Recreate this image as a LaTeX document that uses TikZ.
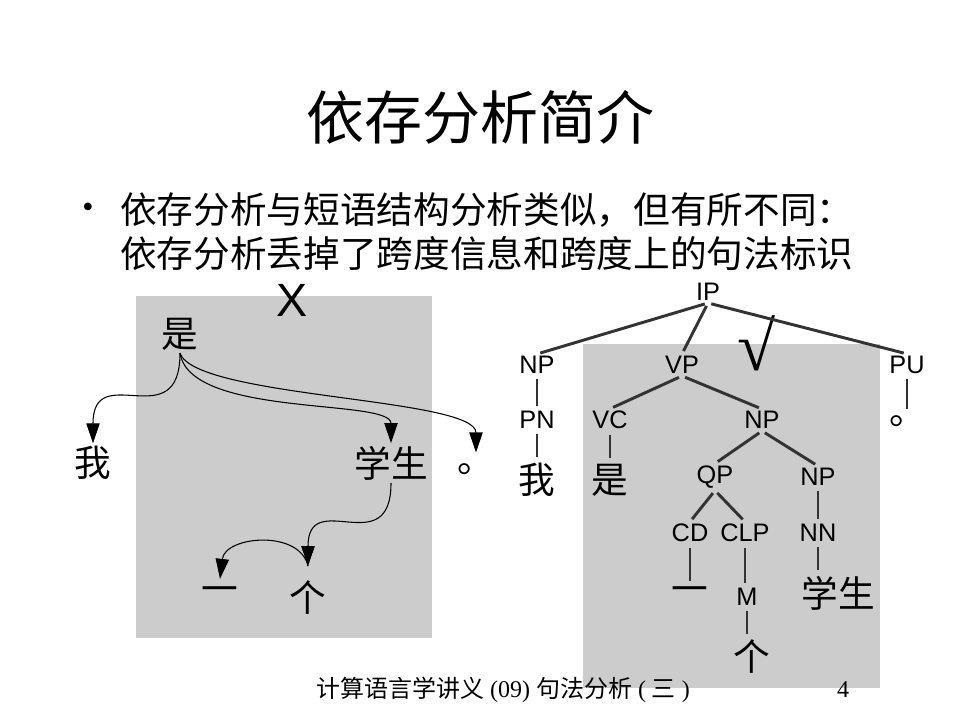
\documentclass[tikz,border=0pt]{standalone}
\usepackage{fontspec}
\setmainfont{Liberation Serif}
\newfontfamily\cjk{Noto Sans CJK SC}
\newfontfamily\arial{Liberation Sans}
\usetikzlibrary{calc,arrows.meta}

\begin{document}
\begin{tikzpicture}[x=0.75pt,y=-0.75pt,word/.style={font=\cjk\fontsize{27.5}{27.5}\selectfont,inner sep=2pt},tag/.style={font=\arial\fontsize{19}{19}\selectfont,inner sep=1.5pt},dep/.style={-{Triangle[length=15pt,width=10pt]},line width=0.8pt},branch/.style={line width=2.2pt,draw=black!80,shorten <=2.5pt,shorten >=2.5pt},panel/.style={fill=black!20}]
  \fill[white] (0,0) rectangle (960,720);
  \fill[panel] (136,296) rectangle (432,638);
  \fill[panel] (583,344) rectangle (880,688);

  \node[font=\cjk\fontsize{43.5}{43.5}\selectfont] (title) at (480,117) {依存分析简介};
  \node[font=\fontsize{24}{24}\selectfont] (bullet) at (88,210) {•};
  \node[anchor=west,inner sep=0pt,font=\cjk\fontsize{27.5}{27.5}\selectfont] (point line1) at (120,210) {依存分析与短语结构分析类似，但有所不同：};
  \node[anchor=west,inner sep=0pt,font=\cjk\fontsize{27.5}{27.5}\selectfont] (point line2) at (120,253) {依存分析丢掉了跨度信息和跨度上的句法标识};

  % dependency graph
  \node[font=\arial\fontsize{35}{35}\selectfont] (wrong mark) at (292,300) {X};
  \node[word] (dep shi) at (180,334) {是};
  \node[word] (dep wo) at (93,463) {我};
  \node[word] (dep xuesheng) at (391,463) {学生};
  \node[word] (dep period) at (476,469) {。};
  \node[word] (dep yi) at (220,595) {一};
  \node[word] (dep ge) at (308,598) {个};

  \draw[dep] (dep shi.south) .. controls +(0,85) and +(0,-85) .. (dep wo.north);
  \draw[dep] (dep shi.south) .. controls +(10,65) and +(0,-45) .. (dep xuesheng.north);
  \draw[dep] (dep shi.south) .. controls +(15,45) and +(0,-55) .. ([yshift=6pt]dep period.north);
  \draw[dep] (dep xuesheng.south) .. controls +(0,80) and +(0,-80) .. ([yshift=9pt]dep ge.north);
  \draw[dep] ([yshift=9pt]dep ge.north) .. controls +(-8,-37) and +(5,-43) .. ([yshift=4pt]dep yi.north);

  % phrase structure tree
  \node[tag] (ip) at (708,292) {IP};
  \node[tag] (np1) at ($ (ip) + (-171,73) $) {NP};
  \node[tag] (vp) at ($ (ip) + (-26,73) $) {VP};
  \node[tag] (pu) at ($ (ip) + (199,73) $) {PU};
  \node[font=\fontsize{52}{52}\selectfont] (right mark) at (757,343) {√};
  \node[tag] (pn) at ($ (np1) + (0,55) $) {PN};
  \node[word] (wo) at ($ (pn) + (0,60) $) {我};
  \node[tag] (vc) at ($ (vp) + (-72,55) $) {VC};
  \node[word] (shi) at ($ (vc) + (0,60) $) {是};
  \node[tag] (np2) at ($ (vp) + (80,55) $) {NP};
  \node[tag] (qp) at ($ (np2) + (-47,57) $) {QP};
  \node[tag] (np3) at ($ (np2) + (56,57) $) {NP};
  \node[tag] (cd) at ($ (qp) + (-25,56) $) {CD};
  \node[tag] (clp) at ($ (qp) + (30,56) $) {CLP};
  \node[tag] (nn) at ($ (np3) + (0,56) $) {NN};
  \node[word] (yi) at ($ (cd) + (0,62) $) {一};
  \node[tag] (m) at ($ (clp) + (2,64) $) {M};
  \node[word] (xuesheng) at ($ (nn) + (20,60) $) {学生};
  \node[word] (ge) at ($ (m) + (5,60) $) {个};
  \node[word] (period) at ($ (pu) + (1,56) $) {。};

  \draw[branch] (ip.south) -- (np1.north);
  \draw[branch] (ip.south) -- (vp.north);
  \draw[branch] (ip.south) -- (pu.north);
  \draw[branch] (np1) -- (np1 |- pn.north);
  \draw[branch] (pn) -- (pn |- wo.north);
  \draw[branch] (vp.south) -- (vc.north);
  \draw[branch] (vp.south) -- (np2.north);
  \draw[branch] (vc) -- (vc |- shi.north);
  \draw[branch] (np2.south) -- (qp.north);
  \draw[branch] (np2.south) -- (np3.north);
  \draw[branch] (qp.south) -- (cd.north);
  \draw[branch] (qp.south) -- (clp.north);
  \draw[branch] (np3) -- (np3 |- nn.north);
  \draw[branch] (cd) -- (cd |- yi.north);
  \draw[branch] (clp) -- (clp |- m.north);
  \draw[branch] (nn) -- (nn |- xuesheng.north);
  \draw[branch] (m) -- (m |- ge.north);
  \draw[branch] (pu) -- (pu |- period.north);

  \node[font=\fontsize{18}{18}\selectfont] (footer) at (503,690) {{\cjk 计算语言学讲义} (09) {\cjk 句法分析} ( {\cjk 三} )};
  \node[font=\fontsize{18}{18}\selectfont] (page) at (843,690) {4};
\end{tikzpicture}
\end{document}
